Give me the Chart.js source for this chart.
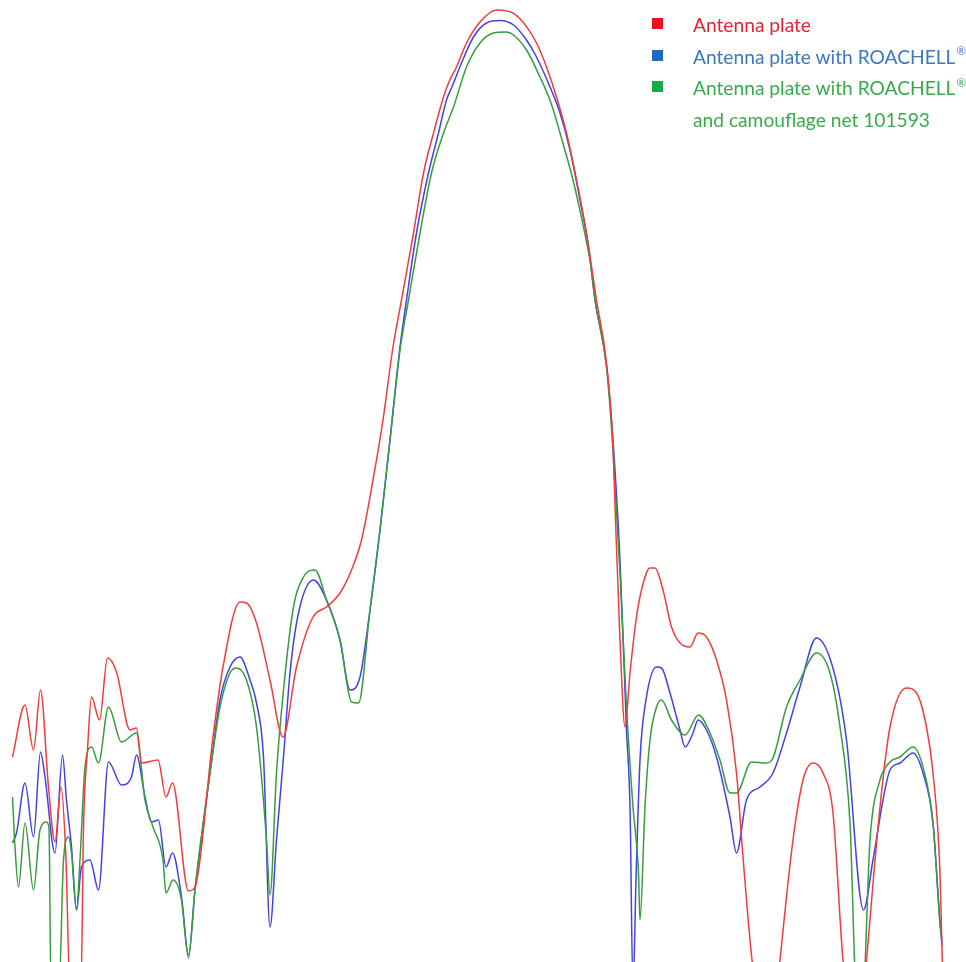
<!DOCTYPE html>
<html>
<head>
<meta charset="utf-8">
<title>Antenna pattern</title>
<script src="https://cdn.jsdelivr.net/npm/chart.js@4.4.1/dist/chart.umd.min.js"></script>
<style>
  html, body { margin: 0; padding: 0; background: #fff; }
  .wrap { position: relative; width: 966px; height: 962px; overflow: hidden; }
  .legend { position: absolute; left: 652px; top: 9px; font-family: Lato, 'Open Sans', sans-serif; font-size: 19.2px; line-height: 31.5px; }
  .legend .row { position: relative; padding-left: 41px; white-space: nowrap; }
  .legend .box { position: absolute; left: 0; top: 9px; width: 11px; height: 11px; }
  .legend sup { font-size: 0.6em; line-height: 0; vertical-align: 0.7em; margin-left: 1px; }
</style>
</head>
<body>
<div class="wrap">
  <canvas id="patternChart"></canvas>
  <div class="legend" id="legend"></div>
</div>
<script>
// angle in degrees, level in dB
const redAngle = [-97.5, -95, -93.3, -91.9, -90.3, -89, -87.8, -86.8, -86, -83.8, -83.3, -82.5, -81.7, -80.1, -78.5, -76.7, -74, -72.7, -71.7, -68.4, -66.8, -65.5, -62.3, -61, -57.4, -55.4, -52, -50.7, -48.7, -46, -43.4, -40.7, -37.4, -34.7, -32, -29.7, -27.7, -25.4, -23.4, -21.4, -19.7, -17.3, -15.3, -13.3, -11.3, -10.3, -8.7, -6.7, -4, -0.7, 2.7, 5.3, 7.3, 9.3, 11.3, 13.3, 15.3, 17.3, 19.3, 21.3, 22.6, 23, 24, 25, 26, 27.3, 28.3, 30, 31, 32.6, 34.3, 36, 38, 39.6, 41.3, 43.3, 45.3, 47.3, 48.6, 50.4, 52, 55, 56, 58.6, 60.6, 62.6, 64.6, 66.6, 68.6, 70, 72.4, 73.3, 76, 78, 81.3, 83.3, 85.3, 86.6, 88, 88.6];
const redLevel = [-37.85, -35.25, -37.5, -34.5, -39.35, -42.1, -39.35, -43, -49.5, -49.5, -41.35, -37.5, -34.85, -36, -32.9, -33.6, -36.5, -36.4, -38.15, -38, -39.85, -39.15, -44.55, -44.35, -36.85, -33.35, -30.1, -30.15, -31.15, -34, -36.85, -33.35, -30.85, -30.35, -29.65, -28.5, -27, -24, -21, -17.35, -15, -11.65, -8.65, -6.65, -4.85, -4.15, -3.35, -2.15, -1.1, -0.5, -0.67, -1.33, -2.15, -3.35, -4.85, -6.65, -9, -11.65, -15, -18.15, -22.35, -25.25, -32, -36.35, -33.65, -30.85, -29.5, -28.4, -28.4, -29.5, -31.35, -32.15, -32.35, -31.65, -31.85, -33, -35, -38.65, -42.85, -48, -50.5, -50.5, -48, -42, -39, -38.15, -38.65, -40.65, -48, -50.5, -50.5, -48, -40.35, -36.35, -34.4, -34.65, -36.35, -38.65, -43.65, -49.5];

const blueAngle = [-97.5, -96.7, -95, -93.3, -91.9, -91, -89, -87.5, -86.7, -85.7, -84.7, -83.7, -82, -80.3, -78.3, -75.7, -73.7, -72.7, -71, -69.7, -68.3, -66.8, -65.5, -63.7, -62.3, -61, -58, -56, -54, -52, -50, -48.7, -47.3, -46, -44.7, -43.3, -42, -40.3, -37.3, -34.7, -32, -30, -28, -26, -24, -22, -20, -18.7, -16.7, -14.3, -12.3, -10.7, -9.7, -7.7, -5.3, -2.7, 0, 2.7, 5.3, 7.3, 10, 12, 14, 16, 17.7, 19, 21.3, 22.6, 24, 25.3, 26, 26.6, 27.2, 28, 29.2, 31.3, 32.3, 34, 36, 37, 38.6, 39.6, 41.3, 43.3, 46, 47.3, 49.3, 52, 54.6, 57.3, 60, 63.3, 66.7, 69.3, 72.7, 74.6, 76.6, 78, 80, 82.6, 84.6, 86.6, 88, 88.4];
const blueLevel = [-42.15, -41.65, -39.15, -41.85, -37.6, -38.85, -42.65, -37.75, -40, -42.35, -45.5, -43.35, -43, -44.5, -38.1, -39.25, -38.85, -37.75, -39.85, -41.1, -41, -43.35, -42.65, -44.85, -47.75, -44.5, -38.65, -35, -33.35, -32.85, -34, -35.15, -37.85, -46.35, -42, -37.85, -33.65, -30.65, -29, -30, -32, -34.5, -33.85, -30.5, -26.5, -22, -17.35, -15, -11.65, -8.65, -6.65, -5, -4.4, -3.15, -1.85, -1.15, -1.03, -1.25, -2, -2.85, -4.35, -5.65, -7.5, -10, -12.35, -15, -18.25, -22, -28, -36.5, -40.35, -49.5, -44, -38, -35, -33.35, -33.4, -34.65, -36.5, -37.35, -36.65, -36, -36.5, -37.85, -40.85, -42.65, -40, -39.35, -38.65, -36.65, -34.35, -31.9, -33.5, -37, -45.5, -43, -40, -38.5, -38.15, -37.65, -38.65, -41.15, -46.15, -47.25];

const greenAngle = [-97.5, -97, -96.3, -95, -93.3, -92, -90.7, -90.2, -89.8, -88.2, -87.3, -86.3, -85.7, -84.7, -84, -83, -81.7, -80.3, -78.3, -75.7, -72.7, -71, -69.4, -67.4, -66.8, -65.4, -63.7, -62.3, -61, -58, -56, -54, -52.7, -50.7, -48.7, -46.7, -46, -44.7, -43.3, -41.3, -39.3, -37, -34.7, -32, -29.7, -28.3, -26, -24, -22, -20, -18.3, -16, -13.7, -11.3, -9.3, -6.7, -4, -1.3, 1.3, 2.7, 5.3, 8, 10.2, 12.4, 14.6, 16.4, 18.2, 19, 21.3, 22.6, 24, 25.3, 26.6, 27.7, 28, 29, 30, 31.3, 32.3, 34.3, 37, 39.7, 42, 44, 46, 47.3, 50.3, 53.3, 54.6, 57.3, 60, 63.3, 66, 68, 70, 71.3, 72.6, 74, 76, 78, 80, 82.6, 84.6, 86.6, 88, 88.4];
const greenLevel = [-39.85, -42.35, -44.35, -41.15, -44.5, -41.5, -41.1, -41.4, -49.5, -49.5, -43, -41.85, -42.65, -45.5, -43, -38.35, -37.35, -38.15, -35.35, -37.1, -36.65, -40, -41.35, -43, -44.65, -44, -45, -47.9, -44.5, -38.65, -35.35, -33.65, -33.4, -34, -36.35, -42, -44.75, -38.65, -34.5, -30.35, -28.85, -28.5, -30, -32, -35.1, -35.15, -30.5, -26.5, -22, -17.5, -15, -11.65, -8.65, -6.65, -5.35, -3.35, -2.15, -1.65, -1.6, -1.75, -2.5, -3.85, -5.15, -7, -9, -11, -13.35, -15, -18.35, -22.5, -28.65, -35.35, -40.35, -43.65, -46, -40.35, -37, -35.35, -35, -36, -36.75, -35.75, -36.65, -38, -39.65, -39.65, -38.1, -38.15, -37.9, -35.35, -34, -32.65, -33.65, -36.35, -41.15, -49.5, -49.5, -42, -39, -38.1, -37.85, -37.35, -38.35, -41.15, -46.15, -47];

const seriesLabels = ['Antenna plate', 'Antenna plate with ROACHELL®', 'Antenna plate with ROACHELL®\nand camouflage net 101593'];
const lineColors = ['rgb(240, 60, 60)', 'rgb(66, 66, 230)', 'rgb(56, 156, 62)'];
const boxColors = ['#e8121c', '#1d6cc4', '#19a84c'];
const textColors = ['#e42430', '#3a78c0', '#3aa94c'];

function toPoints(xs, ys) {
  return xs.map((x, i) => ({ x: x, y: ys[i] }));
}

function renderLegend() {
  const legend = document.getElementById('legend');
  seriesLabels.forEach((label, i) => {
    const row = document.createElement('div');
    row.className = 'row';
    row.style.color = textColors[i];
    const html = label.split('\n').join('<br>').replace(/®/g, '<sup>®</sup>');
    row.innerHTML = `<span class="box" style="background:${boxColors[i]}"></span>` + html;
    legend.appendChild(row);
  });
}

function initChart() {
  const ctx = document.getElementById('patternChart').getContext('2d');
  new Chart(ctx, {
    type: 'line',
    data: {
      datasets: [
        { label: seriesLabels[0], data: toPoints(redAngle, redLevel), borderColor: lineColors[0] },
        { label: seriesLabels[2], data: toPoints(greenAngle, greenLevel), borderColor: lineColors[2] },
        { label: seriesLabels[1], data: toPoints(blueAngle, blueLevel), borderColor: lineColors[1] }
      ]
    },
    options: {
      responsive: true,
      maintainAspectRatio: false,
      animation: false,
      layout: { padding: 0 },
      elements: {
        point: { radius: 0 },
        line: { borderWidth: 1.5, cubicInterpolationMode: 'monotone', fill: false }
      },
      plugins: {
        legend: { display: false },
        tooltip: { enabled: false }
      },
      scales: {
        x: { type: 'linear', min: -100, max: 93.2, display: false },
        y: { min: -48.1, max: 0, display: false }
      }
    }
  });
}

document.addEventListener('DOMContentLoaded', () => {
  renderLegend();
  initChart();
});
</script>
</body>
</html>
